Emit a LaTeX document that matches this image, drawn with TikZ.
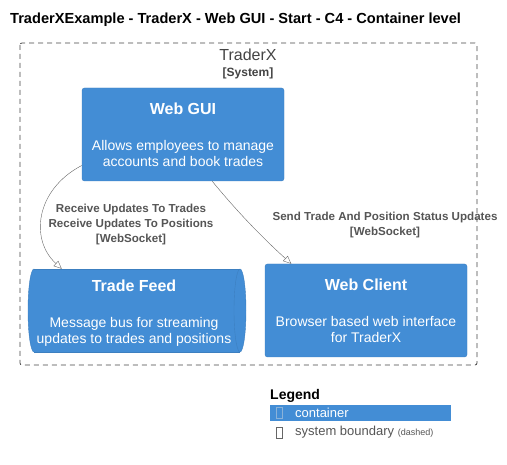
\documentclass[tikz,border=0pt]{standalone}
\usepackage{fontspec}
\setmainfont{Liberation Sans}
\usetikzlibrary{arrows.meta, calc}
\definecolor{cblue}{HTML}{438DD5}
\definecolor{cline}{HTML}{3C7FC0}
\definecolor{cgrey}{HTML}{444444}
\definecolor{clabel}{HTML}{555555}
\definecolor{carrow}{HTML}{666666}

\begin{document}
\begin{tikzpicture}[x=1pt, y=-1pt,
		container/.style={draw=cline, fill=cblue, rounded corners=2.5pt, text=white, align=center,
			minimum width=202pt, minimum height=93pt, inner sep=0pt,
			font=\fontsize{14}{16}\selectfont},
		boxtext/.style={text=white, align=center, inner sep=0pt, font=\fontsize{14}{16}\selectfont},
		rel/.style={draw=carrow, -{Triangle[open, length=8pt, width=7pt]}},
		rellabel/.style={text=clabel, align=center, font=\bfseries\fontsize{11.6}{15}\selectfont}]
			\useasboundingbox (0,0) rectangle (507,465);
			\node[anchor=west, inner sep=0pt, font=\bfseries\fontsize{14.6}{16}\selectfont] (title) at (10,20) {TraderXExample - TraderX - Web GUI - Start - C4 - Container level};
			\draw[cgrey, line width=0.8pt, rounded corners=2pt, dash pattern=on 5pt off 4pt] (20,43) rectangle (477,365);
			\node[text=cgrey, font=\fontsize{16}{18}\selectfont] (sys) at (248,55) {TraderX};
			\node[text=cgrey, font=\bfseries\fontsize{12}{14}\selectfont] (systag) at (248,73) {[System]};
			\node[container] (gui) at (183,134.5) {{\bfseries\fontsize{16}{16}\selectfont Web GUI}\\[20pt]Allows employees to manage\\accounts and book trades};
			% queue drawn as a lying cylinder
			\fill[cblue] (34,269) rectangle (240,352);
			\fill[cblue] (34,310.5) ellipse[x radius=6pt, y radius=41.5pt];
			\fill[cblue] (240,310.5) ellipse[x radius=6pt, y radius=41.5pt];
			\draw[cline] (34,269) -- (240,269);
			\draw[cline] (34,352) -- (240,352);
			\draw[cline] (34,269) arc[start angle=90, end angle=270, x radius=6pt, y radius=41.5pt];
			\draw[cline] (240,310.5) ellipse[x radius=6pt, y radius=41.5pt];
			\node[minimum width=218pt, minimum height=83pt, inner sep=0pt] (feed) at (137,310.5) {};
			\node[boxtext] (feedtext) at (134,313.5) {{\bfseries\fontsize{16}{16}\selectfont Trade Feed}\\[20pt]Message bus for streaming\\updates to trades and positions};
			\node[container] (client) at (366,310.5) {{\bfseries\fontsize{16}{16}\selectfont Web Client}\\[20pt]Browser based web interface\\for TraderX};
			\draw[rel] (gui.197) .. controls (35,190) and (30,240) .. (feed.151);
			\node[rellabel] (l1) at (131,225) {Receive Updates To Trades\\Receive Updates To Positions\\{[WebSocket]}};
			\draw[rel] (gui.302.8) .. controls (240,215) and (265,240) .. (client.148.2);
			\node[rellabel] (l2) at (385,225) {Send Trade And Position Status Updates\\{[WebSocket]}};
			% legend
			\node[anchor=west, inner sep=0pt, font=\bfseries\fontsize{14}{16}\selectfont] (leg) at (270,396) {Legend};
			\fill[cblue] (270,405) rectangle (451,421);
			\draw[cline!60!white] (276,407.5) rectangle (282,418.5);
			\node[anchor=west, inner sep=0pt, text=white, font=\fontsize{13}{15}\selectfont] (legc) at (295,413) {container};
			\draw[carrow] (276,427) rectangle (282,438);
			\node[anchor=west, inner sep=0pt, text=clabel, font=\fontsize{13}{15}\selectfont] (legb) at (295,432) {system boundary {\fontsize{9}{10}\selectfont(dashed)}};
		\end{tikzpicture}
\end{document}
